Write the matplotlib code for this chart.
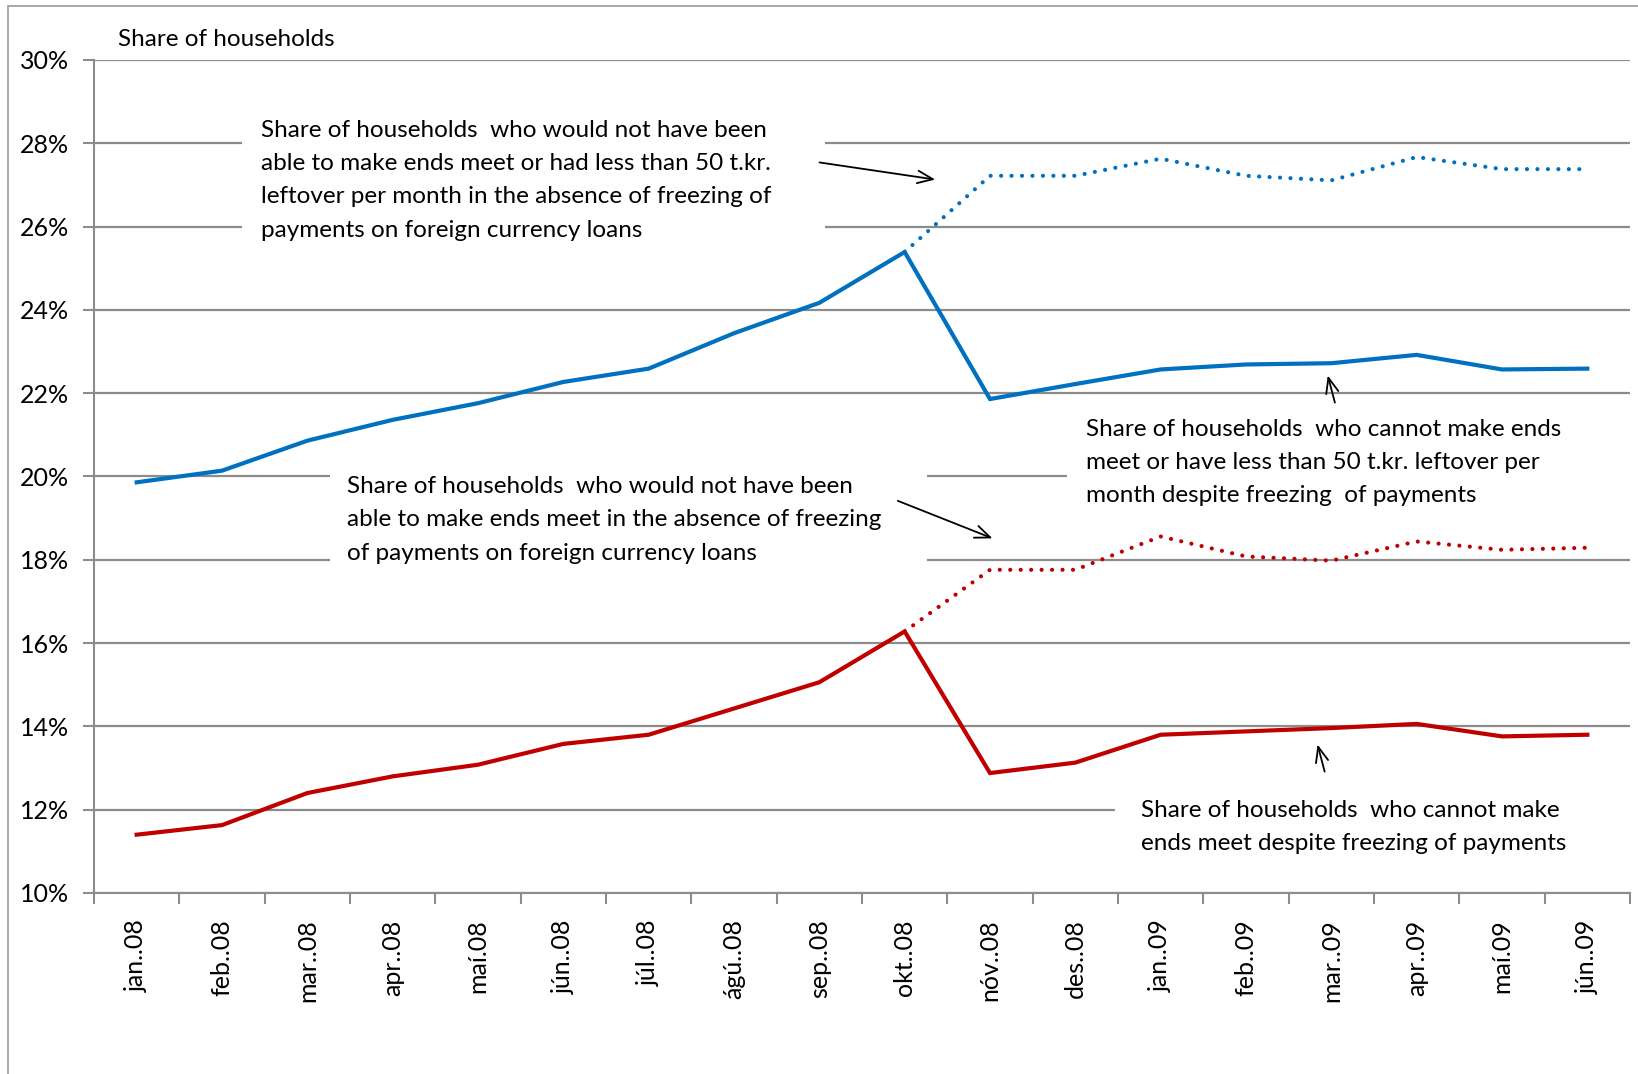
import matplotlib.pyplot as plt
from matplotlib.patches import Rectangle
from matplotlib.ticker import FuncFormatter

plt.rcParams['font.family'] = ['Lato', 'DejaVu Sans']

months = ['jan..08', 'feb..08', 'mar..08', 'apr..08', 'maí.08', 'jún..08', 'júl..08',
          'ágú..08', 'sep..08', 'okt..08', 'nóv..08', 'des..08', 'jan..09', 'feb..09',
          'mar..09', 'apr..09', 'maí.09', 'jún..09']

blue_actual = [19.86, 20.14, 20.86, 21.36, 21.76, 22.27, 22.59, 23.44, 24.17, 25.39,
               21.86, 22.22, 22.57, 22.69, 22.72, 22.92, 22.57, 22.59]
# dotted series start at okt..08
blue_nofreeze = [25.39, 27.22, 27.22, 27.63, 27.22, 27.11, 27.67, 27.38, 27.38]
red_actual = [11.40, 11.63, 12.40, 12.80, 13.08, 13.58, 13.80, 14.43, 15.06, 16.28,
              12.88, 13.13, 13.80, 13.88, 13.96, 14.06, 13.76, 13.80]
red_nofreeze = [16.28, 17.76, 17.76, 18.56, 18.08, 17.98, 18.44, 18.24, 18.29]

blue = '#0070C0'
red = '#C00000'
gray = '#8c8c8c'

fig = plt.figure(figsize=(16.38, 10.74), dpi=100)
ax = fig.add_axes([94/1638, 1 - 893/1074, 1536/1638, 833/1074])

# outer frame
fig.patches.append(Rectangle((8/1638, -0.1), 1.2, 1 - 6/1074 + 0.1, transform=fig.transFigure,
                             fill=False, ec='#9a9a9a', lw=1.2))

x = list(range(len(months)))
xs = x[9:]
ax.plot(x, blue_actual, color=blue, lw=3, zorder=4, solid_joinstyle='miter')
ax.plot(xs, blue_nofreeze, color=blue, lw=3, ls=(0, (0.01, 2.5)), dash_capstyle='round', zorder=4)
ax.plot(x, red_actual, color=red, lw=3, zorder=4, solid_joinstyle='miter')
ax.plot(xs, red_nofreeze, color=red, lw=3, ls=(0, (0.01, 2.5)), dash_capstyle='round', zorder=4)

ax.set_xlim(-0.5, 17.5)
ax.set_ylim(10, 30)
ax.set_yticks(range(10, 31, 2))
ax.yaxis.set_major_formatter(FuncFormatter(lambda v, p: f'{v:.0f}%'))
ax.grid(axis='y', color=gray, lw=1.6, zorder=0)
ax.set_axisbelow(True)
ax.set_xticks(x)
ax.set_xticklabels(months, rotation=90)
ax.set_xticks([i - 0.5 for i in range(19)], minor=True)
ax.tick_params(axis='x', which='major', length=0, pad=19, labelsize=18)
ax.tick_params(axis='x', which='minor', length=8, width=1.5, color=gray)
ax.tick_params(axis='y', length=8, width=1.5, color=gray, labelsize=18, pad=10)
for s in ['top', 'right']:
    ax.spines[s].set_visible(False)
for s in ['left', 'bottom']:
    ax.spines[s].set_color(gray)
    ax.spines[s].set_linewidth(1.5)

# white boxes behind annotations
for (x0, x1, y0, y1) in [(1.24, 8.07, 25.4, 28.7), (2.27, 9.26, 17.7, 20.3),
                         (10.90, 17.5, 19.3, 20.8), (11.46, 17.5, 11.2, 12.4)]:
    ax.add_patch(Rectangle((x0, y0), x1 - x0, y1 - y0, fc='white', ec='none', zorder=1))

ax.text(-0.22, 30.5, 'Share of households', fontsize=17.5, ha='left', va='center', clip_on=False)

kw = dict(fontsize=17.5, ha='left', va='center', linespacing=1.72, zorder=5)
ax.text(1.46, 27.11, 'Share of households  who would not have been\nable to make ends meet or had less than 50 t.kr.\n'
        'leftover per month in the absence of freezing of\npayments on foreign currency loans', **kw)
ax.text(2.47, 18.96, 'Share of households  who would not have been\nable to make ends meet in the absence of freezing\n'
        'of payments on foreign currency loans', **kw)
ax.text(11.13, 20.34, 'Share of households  who cannot make ends\nmeet or have less than 50 t.kr. leftover per\n'
        'month despite freezing  of payments', **kw)
ax.text(11.77, 11.59, 'Share of households  who cannot make\nends meet despite freezing of payments', **kw)

akw = dict(arrowstyle='->,head_length=1.1,head_width=0.45', color='black', lw=1.3)
ax.annotate('', xy=(9.39, 27.12), xytext=(7.97, 27.55), arrowprops=akw, zorder=6)
ax.annotate('', xy=(10.06, 18.49), xytext=(8.89, 19.44), arrowprops=akw, zorder=6)
ax.annotate('', xy=(13.95, 22.49), xytext=(14.05, 21.71), arrowprops=akw, zorder=6)
ax.annotate('', xy=(13.83, 13.63), xytext=(13.93, 12.85), arrowprops=akw, zorder=6)

fig.savefig('out.png', dpi=100)
